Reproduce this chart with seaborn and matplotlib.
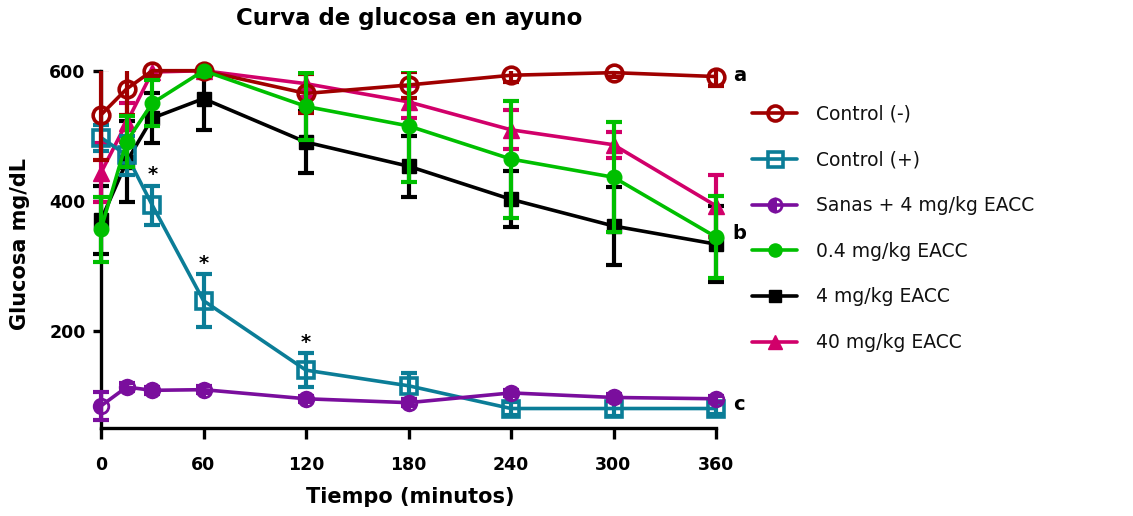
import matplotlib
matplotlib.use("Agg")
import matplotlib.pyplot as plt
from matplotlib.patches import Rectangle
import seaborn as sns
import pandas as pd
import numpy as np

# ---- data ----
times = [0, 15, 30, 60, 120, 180, 240, 300, 360]

series_names = ["Control (-)", "Control (+)", "Sanas + 4 mg/kg EACC",
                "0.4 mg/kg EACC", "4 mg/kg EACC", "40 mg/kg EACC"]

ctrl_neg = [532, 572, 600, 600, 565, 578, 593, 597, 591]
ctrl_neg_sem = [70, 40, 8, 5, 30, 20, 10, 6, 15]

ctrl_pos = [497, 470, 393, 246, 139, 115, 80, 80, 80]
ctrl_pos_sem = [20, 30, 30, 41, 26, 20, 10, 12, 8]

sanas = [84, 113, 108, 109, 95, 89, 104, 97, 95]
sanas_sem = [21, 6, 5, 5, 5, 5, 5, 5, 5]

eacc04 = [356, 491, 550, 600, 545, 515, 464, 436, 344]
eacc04_sem = [50, 40, 35, 8, 52, 86, 90, 85, 63]

eacc4 = [370, 460, 527, 557, 490, 453, 402, 361, 333]
eacc4_sem = [52, 62, 38, 49, 48, 47, 43, 60, 58]

eacc40 = [443, 520, 598, 600, 580, 552, 509, 486, 392]
eacc40_sem = [45, 30, 10, 5, 20, 25, 30, 20, 48]

star_times = [30, 60, 120]          # significance marks on Control (+)
group_letters = ["a", "b", "c"]
letter_values = [593, 350, 86]

x_ticks = [0, 60, 120, 180, 240, 300, 360]
y_ticks = [200, 400, 600]

means = [ctrl_neg, ctrl_pos, sanas, eacc04, eacc4, eacc40]
sems = [ctrl_neg_sem, ctrl_pos_sem, sanas_sem, eacc04_sem, eacc4_sem, eacc40_sem]

rows = []
for name, m, s in zip(series_names, means, sems):
    for t, v, e in zip(times, m, s):
        rows.append({"Tiempo": t, "Glucosa": v, "SEM": e, "Grupo": name})
df = pd.DataFrame(rows)

# ---- styles ----
colors = {"Control (-)": "#A00000", "Control (+)": "#0B7D97",
          "Sanas + 4 mg/kg EACC": "#7A0E9D", "0.4 mg/kg EACC": "#00BF00",
          "4 mg/kg EACC": "#000000", "40 mg/kg EACC": "#D1006A"}
mstyle = {
    "Control (-)": dict(marker="o", markersize=12, markerfacecolor="none", markeredgewidth=2.6),
    "Control (+)": dict(marker="s", markersize=12, markerfacecolor="none", markeredgewidth=2.6),
    "Sanas + 4 mg/kg EACC": dict(marker="o", markersize=10.5, fillstyle="left",
                                 markerfacecoloralt="none", markeredgewidth=2.0),
    "0.4 mg/kg EACC": dict(marker="o", markersize=10.5, markeredgewidth=1),
    "4 mg/kg EACC": dict(marker="s", markersize=10, markeredgewidth=1),
    "40 mg/kg EACC": dict(marker="^", markersize=11, markeredgewidth=1),
}
draw_order = ["4 mg/kg EACC", "40 mg/kg EACC", "Control (+)",
              "Sanas + 4 mg/kg EACC", "Control (-)", "0.4 mg/kg EACC"]

sns.set_theme(style="ticks")
plt.rcParams["font.family"] = ["DejaVu Sans"]
plt.rcParams["text.color"] = "black"

W, H = 1133, 516
fig = plt.figure(figsize=(W / 100, H / 100), dpi=100)
ax = fig.add_axes([101 / W, 1 - 428 / H, (716 - 101) / W, (428 - 70.7) / H])
ax.set_xlim(0, 360)
ax.set_ylim(50, 600)

# clip region: everything below 600, but allow overhang left/right/bottom
clip_rect = Rectangle((-30, 0), 420, 600, transform=ax.transData,
                      facecolor="none", edgecolor="none")

z = {n: 3 + i for i, n in enumerate(draw_order)}
for name in draw_order:
    sub = df[df["Grupo"] == name]
    c = colors[name]
    eb = ax.errorbar(sub["Tiempo"], sub["Glucosa"], yerr=sub["SEM"], fmt="none",
                     ecolor=c, elinewidth=3, capsize=6, capthick=3, zorder=z[name])
    for art in eb.lines[1] + tuple(eb.lines[2]):
        art.set_clip_path(clip_rect)
    kw = dict(mstyle[name])
    kw.setdefault("markerfacecolor", c)
    sns.lineplot(data=sub, x="Tiempo", y="Glucosa", ax=ax, color=c,
                 linewidth=2.6, errorbar=None, markeredgecolor=c,
                 label=name, zorder=z[name] + 0.5, clip_on=False, **kw)

ax.set_xlim(0, 360)
ax.set_ylim(50, 600)
ax.set_xticks(x_ticks)
ax.set_yticks(y_ticks)
ax.set_xlabel("")
ax.set_ylabel("")
for sp in ["top", "right"]:
    ax.spines[sp].set_visible(False)
for sp in ["left", "bottom"]:
    ax.spines[sp].set_linewidth(2.4)
    ax.spines[sp].set_color("black")
ax.tick_params(axis="x", length=8, width=2.4, pad=12, labelsize=12.5, colors="black")
ax.tick_params(axis="y", length=6, width=2.4, pad=5, labelsize=12.5, colors="black")
for lab in ax.get_xticklabels() + ax.get_yticklabels():
    lab.set_fontweight("bold")

# significance stars on Control (+)
cp = df[df["Grupo"] == "Control (+)"].set_index("Tiempo")
for t in star_times:
    top = cp.loc[t, "Glucosa"] + cp.loc[t, "SEM"]
    ax.annotate("*", (t, top), xytext=(0, 1), textcoords="offset points",
                ha="center", va="bottom", fontsize=14, fontweight="bold",
                color="black", zorder=20)

# group letters
for letter, v in zip(group_letters, letter_values):
    ax.annotate(letter, (360, v), xytext=(12, 0), textcoords="offset points",
                ha="left", va="center", fontsize=14, fontweight="bold",
                color="black", annotation_clip=False)

# legend in series order
handles, labels = ax.get_legend_handles_labels()
hmap = dict(zip(labels, handles))
if ax.legend_:
    ax.legend_.remove()
leg = fig.legend([hmap[n] for n in series_names], series_names,
                 loc="center left", bbox_to_anchor=(752 / W, 1 - 228.5 / H),
                 frameon=False, fontsize=13.5, labelspacing=1.42,
                 handlelength=2.4, handletextpad=1.0, borderpad=0,
                 borderaxespad=0, markerscale=0.9)
for t in leg.get_texts():
    t.set_color("#111111")

fig.text(409 / W, 1 - 18 / H, "Curva de glucosa en ayuno", ha="center",
         va="center", fontsize=16.5, fontweight="bold", color="black")
fig.text(410 / W, 1 - 497 / H, "Tiempo (minutos)", ha="center", va="center",
         fontsize=15, fontweight="bold", color="black")
fig.text(20 / W, 1 - 244 / H, "Glucosa mg/dL", ha="center", va="center",
         rotation=90, fontsize=15, fontweight="bold", color="black")

fig.savefig("out.png", dpi=100)
